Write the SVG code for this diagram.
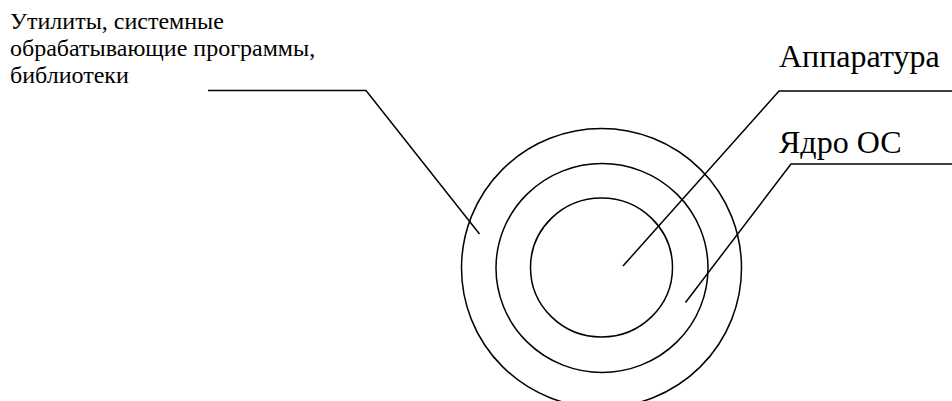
<svg xmlns="http://www.w3.org/2000/svg" width="952" height="401" viewBox="0 0 952 401">
<style>
.ln{fill:none;stroke:#000;stroke-width:1.5}
.t{fill:#000;font-family:"Liberation Serif","Times New Roman",serif}
.s{font-size:24px}
.b{font-size:32px}
</style>
<rect width="952" height="401" fill="#fff"/>
<g id="outer"><ellipse class="ln" cx="601.5" cy="268" rx="140" ry="139.5"/></g>
<g id="middle"><ellipse class="ln" cx="602" cy="268" rx="106" ry="104.5"/></g>
<g id="inner"><ellipse class="ln" cx="601.5" cy="267.5" rx="71" ry="69.5"/></g>
<g id="label-utils">
<text class="t s" x="10" y="29">Утилиты, системные</text>
<text class="t s" x="10" y="56">обрабатывающие программы,</text>
<text class="t s" x="10" y="83">библиотеки</text>
</g>
<g id="label-hw"><text class="t b" x="779" y="67">Аппаратура</text></g>
<g id="label-kernel"><text class="t b" x="779" y="153">Ядро ОС</text></g>
<g id="connectors">
<polyline class="ln" points="208,90.5 366,90.5 479.5,234"/>
<polyline class="ln" points="952,91 779,91 623,266"/>
<polyline class="ln" points="952,164 791,164 685.5,302.5"/>
</g>
</svg>
